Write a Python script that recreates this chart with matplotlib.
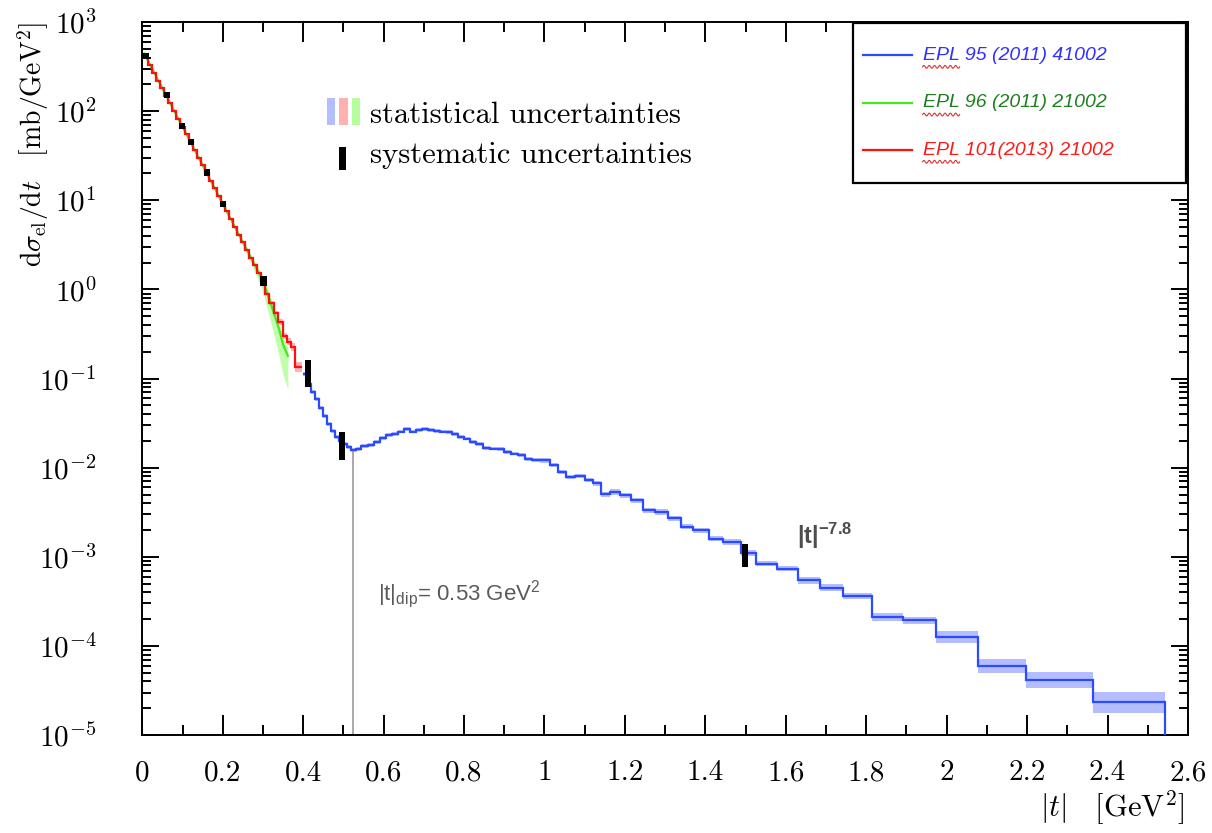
import numpy as np
import matplotlib
matplotlib.use("Agg")
import matplotlib.pyplot as plt
from matplotlib.patches import Rectangle
from matplotlib.ticker import MultipleLocator, LogLocator, NullFormatter

# EPL 95 (2011) 41002 -- blue histogram, |t| bin edges [GeV^2], dsigma/dt [mb/GeV^2]
blue_edges = [0.400, 0.410, 0.420, 0.430, 0.440, 0.450, 0.460, 0.470, 0.480, 0.490,
              0.500, 0.510, 0.519, 0.531, 0.545, 0.560, 0.575, 0.590, 0.605, 0.620,
              0.635, 0.650, 0.665, 0.680, 0.695, 0.710, 0.725, 0.740, 0.755, 0.770,
              0.785, 0.800, 0.815, 0.830, 0.846, 0.864, 0.881, 0.899, 0.916, 0.933,
              0.951, 0.968, 0.988, 1.013, 1.034, 1.054, 1.075, 1.100, 1.121, 1.141,
              1.162, 1.187, 1.216, 1.245, 1.274, 1.307, 1.340, 1.369, 1.410, 1.444,
              1.489, 1.527, 1.578, 1.630, 1.684, 1.743, 1.815, 1.891, 1.974, 2.077,
              2.196, 2.365, 2.544]
blue_vals = [0.112, 0.0865, 0.0703, 0.0587, 0.0466, 0.0379, 0.0308, 0.0257, 0.0220, 0.0198,
             0.0184, 0.0170, 0.0157, 0.0163, 0.0174, 0.0181, 0.0193, 0.0217, 0.0232, 0.0241,
             0.0254, 0.0270, 0.0254, 0.0267, 0.0274, 0.0264, 0.0257, 0.0254, 0.0250, 0.0238,
             0.0223, 0.0212, 0.0196, 0.0184, 0.0166, 0.0164, 0.0163, 0.0151, 0.0144, 0.0138,
             0.0125, 0.0123, 0.0121, 0.0107, 0.00897, 0.00788, 0.00803, 0.00724, 0.00665, 0.00505,
             0.00535, 0.00491, 0.00432, 0.00333, 0.00319, 0.00269, 0.00217, 0.00199, 0.00160, 0.00147,
             0.00109, 0.000841, 0.000739, 0.000546, 0.000452, 0.000364, 0.000212, 0.000194, 0.000126, 5.92e-5,
             4.12e-5, 2.32e-5]
# relative statistical uncertainty per bin
blue_err = [0.05, 0.05, 0.05, 0.05, 0.05, 0.05, 0.05, 0.05, 0.05, 0.05,
            0.05, 0.05, 0.05, 0.05, 0.05, 0.05, 0.05, 0.05, 0.05, 0.05,
            0.05, 0.05, 0.05, 0.05, 0.05, 0.05, 0.05, 0.05, 0.05, 0.05,
            0.05, 0.05, 0.05, 0.05, 0.05, 0.05, 0.05, 0.05, 0.05, 0.05,
            0.05, 0.05, 0.06, 0.06, 0.06, 0.06, 0.06, 0.06, 0.07, 0.07,
            0.07, 0.07, 0.07, 0.07, 0.07, 0.07, 0.07, 0.07, 0.07, 0.07,
            0.08, 0.08, 0.08, 0.09, 0.09, 0.09, 0.10, 0.10, 0.16, 0.20,
            0.23, 0.30]

# EPL 101 (2013) 21002 -- red histogram
red_edges = [0.005, 0.015, 0.025, 0.035, 0.045, 0.055, 0.065, 0.075, 0.085, 0.095,
             0.105, 0.115, 0.125, 0.135, 0.145, 0.155, 0.165, 0.175, 0.185, 0.195,
             0.205, 0.215, 0.225, 0.235, 0.245, 0.255, 0.265, 0.275, 0.285, 0.295,
             0.305, 0.316, 0.327, 0.338, 0.349, 0.359, 0.369, 0.379, 0.396]
red_vals = [402, 329, 270, 221, 181, 149, 122, 99.7, 81.7, 67.0,
            54.9, 45.0, 36.9, 30.2, 24.8, 20.3, 16.6, 13.6, 11.2, 9.16,
            7.51, 6.15, 5.04, 4.13, 3.39, 2.78, 2.28, 1.87, 1.53, 1.25,
            0.90, 0.70, 0.54, 0.43, 0.30, 0.26, 0.227, 0.135]
red_err = [0.01, 0.01, 0.01, 0.01, 0.01, 0.01, 0.01, 0.01, 0.01, 0.01,
           0.01, 0.01, 0.01, 0.01, 0.01, 0.01, 0.01, 0.01, 0.01, 0.01,
           0.015, 0.015, 0.015, 0.02, 0.02, 0.02, 0.025, 0.025, 0.03, 0.03,
           0.04, 0.05, 0.06, 0.07, 0.08, 0.10, 0.10, 0.13]

# EPL 96 (2011) 21002 -- green curve with band
green_t = [0.005, 0.05, 0.10, 0.15, 0.20, 0.24, 0.27, 0.30, 0.32, 0.34, 0.35, 0.362]
green_vals = [444, 181, 67.0, 24.8, 9.16, 4.13, 2.28, 1.25, 0.68, 0.36, 0.24, 0.18]
green_lo = [444, 181, 67.0, 24.8, 9.07, 3.92, 2.0, 0.94, 0.42, 0.18, 0.11, 0.076]
green_hi = [444, 181, 67.0, 24.8, 9.25, 4.3, 2.46, 1.40, 0.79, 0.43, 0.29, 0.22]

# systematic uncertainty bars
sys_t = [0.009, 0.061, 0.099, 0.120, 0.162, 0.200, 0.301, 0.412, 0.497, 1.499]
sys_lo = [381, 140, 62.5, 41.6, 18.7, 8.4, 1.10, 0.080, 0.0121, 7.63e-4]
sys_hi = [452, 166, 74.0, 49.3, 22.2, 9.9, 1.40, 0.161, 0.025, 1.38e-3]
sys_w = [0.015, 0.015, 0.015, 0.015, 0.015, 0.015, 0.016, 0.016, 0.014, 0.014]

t_dip = 0.525
dip_val = 0.0157

xticks = [0, 0.2, 0.4, 0.6, 0.8, 1, 1.2, 1.4, 1.6, 1.8, 2, 2.2, 2.4, 2.6]
xticklabels = ['0', '0.2', '0.4', '0.6', '0.8', '1', '1.2', '1.4', '1.6', '1.8',
               '2', '2.2', '2.4', '2.6']
yticks = [1e-5, 1e-4, 1e-3, 1e-2, 1e-1, 1e0, 1e1, 1e2, 1e3]
yticklabels = [r'$10^{-5}$', r'$10^{-4}$', r'$10^{-3}$', r'$10^{-2}$', r'$10^{-1}$',
               r'$10^{0}$', r'$10^{1}$', r'$10^{2}$', r'$10^{3}$']

legend_labels = ['EPL 95 (2011) 41002', 'EPL 96 (2011) 21002', 'EPL 101(2013) 21002']

plt.rcParams['mathtext.fontset'] = 'cm'
plt.rcParams['mathtext.rm'] = 'Liberation Sans'
plt.rcParams['mathtext.it'] = 'Liberation Sans:italic'
plt.rcParams['mathtext.bf'] = 'Liberation Sans:bold'

blue = '#2a4bff'
red = '#ff1010'
green = '#44e81c'

fig = plt.figure(figsize=(12.12, 8.33), dpi=100)
ax = fig.add_axes([0.1174, 0.1176, 0.8628, 0.8559])
ax.set_yscale('log')
ax.set_xlim(0, 2.6)
ax.set_ylim(1e-5, 1e3)

be = np.array(blue_edges)
bv = np.array(blue_vals)
berr = np.array(blue_err)
re = np.array(red_edges)
rv = np.array(red_vals)
rerr = np.array(red_err)

# statistical bands
ax.stairs(bv * (1 + berr), be, baseline=bv / (1 + berr), fill=True, color='#b4bdff', lw=0, zorder=1)
ax.fill_between(green_t, green_lo, green_hi, color='#b4ff9c', alpha=0.85, lw=0, zorder=1)
ax.stairs(rv * (1 + rerr), re, baseline=rv / (1 + rerr), fill=True, color='#ffb0b0', lw=0, zorder=1)

# central values
ax.plot(green_t, green_vals, color=green, lw=1.6, zorder=2)
ax.stairs(rv, re, baseline=None, color=red, lw=1.6, zorder=3)
ax.stairs(bv, be, baseline=None, color=blue, lw=1.6, zorder=3)
ax.plot([be[-1], be[-1]], [bv[-1], 1e-5], color=blue, lw=1.6, zorder=3)

# systematic bars
sl = np.array(sys_lo)
sh = np.array(sys_hi)
ax.bar(sys_t, sh - sl, bottom=sl, width=sys_w, color='black', zorder=5)

# dip marker
ax.plot([t_dip, t_dip], [dip_val, 1e-5], color='#9a9a9a', lw=1.2, zorder=2)
ax.text(0.2258, 0.1893, r'$|\mathrm{t}|_{\mathrm{dip}}$= 0.53 GeV$^{\mathrm{2}}$',
        transform=ax.transAxes, fontsize=16, color='#5a5a5a', family='Liberation Sans',
        math_fontfamily='custom')
ax.text(0.6258, 0.268, r'$\mathbf{|t|^{-7.8}}$', transform=ax.transAxes, fontsize=17,
        color='#4d4d4d', math_fontfamily='custom')

# ticks
ax.set_xticks(xticks, xticklabels, fontfamily='cmr10', fontsize=21)
ax.xaxis.set_minor_locator(MultipleLocator(0.1))
ax.set_yticks(yticks, yticklabels, fontsize=21)
ax.yaxis.set_minor_locator(LogLocator(base=10, subs=np.arange(2, 10), numticks=30))
ax.yaxis.set_minor_formatter(NullFormatter())
ax.tick_params(which='both', direction='in', top=True, right=True, width=1.4)
ax.tick_params(axis='x', which='major', length=14.5, pad=18)
ax.tick_params(axis='x', which='minor', length=7)
ax.tick_params(axis='y', which='major', length=12.5, pad=33)
ax.tick_params(axis='y', which='minor', length=6.5)
for s in ax.spines.values():
    s.set_linewidth(1.4)

# axis titles
fig.text(0.027, 0.9736, r'$\mathrm{d}\sigma_{\mathrm{el}}/\mathrm{d}t\quad[\mathrm{mb/GeV^2}]$',
         rotation=90, ha='center', va='top', fontsize=20)
fig.text(0.9777, 0.03, r'$|t|\quad[\mathrm{GeV}^2]$', ha='right', va='center', fontsize=22)

# uncertainty key
for x0, c in [(0.1763, '#b4bdff'), (0.1884, '#ffb0b0'), (0.2002, '#b4ff9c')]:
    ax.add_patch(Rectangle((x0, 0.8555), 0.008, 0.0375, transform=ax.transAxes,
                           color=c, lw=0))
ax.add_patch(Rectangle((0.1884, 0.7924), 0.0064, 0.0327, transform=ax.transAxes,
                       color='black', lw=0))
ax.text(0.2178, 0.8579, 'statistical uncertainties', transform=ax.transAxes,
        family='cmr10', fontsize=22, va='baseline')
ax.text(0.2178, 0.8020, 'systematic uncertainties', transform=ax.transAxes,
        family='cmr10', fontsize=22, va='baseline')

# legend box
ax.add_patch(Rectangle((0.6797, 0.774), 0.3183, 0.2246, transform=ax.transAxes,
                       facecolor='white', edgecolor='black', lw=1.6, zorder=6))
leg_y = [0.9537, 0.8868, 0.8205]
leg_line = [blue, green, red]
leg_text = ['#3030ff', '#1f7f1f', '#ff1a1a']
sq = np.linspace(0, 1, 80)
for y, lc, tc, lab in zip(leg_y, leg_line, leg_text, legend_labels):
    ax.plot([0.6889, 0.7358], [y, y], color=lc, lw=1.6, transform=ax.transAxes, zorder=7)
    ax.text(0.7469, y, lab, transform=ax.transAxes, color=tc, fontsize=14,
            family='Liberation Sans', style='italic', va='center', zorder=7)
    ax.plot(0.7462 + 0.0354 * sq, y - 0.0165 + 0.002 * np.sin(sq * 2 * np.pi * 7),
            color='#e03030', lw=0.8, transform=ax.transAxes, zorder=7)

fig.savefig('out.png', dpi=100)
